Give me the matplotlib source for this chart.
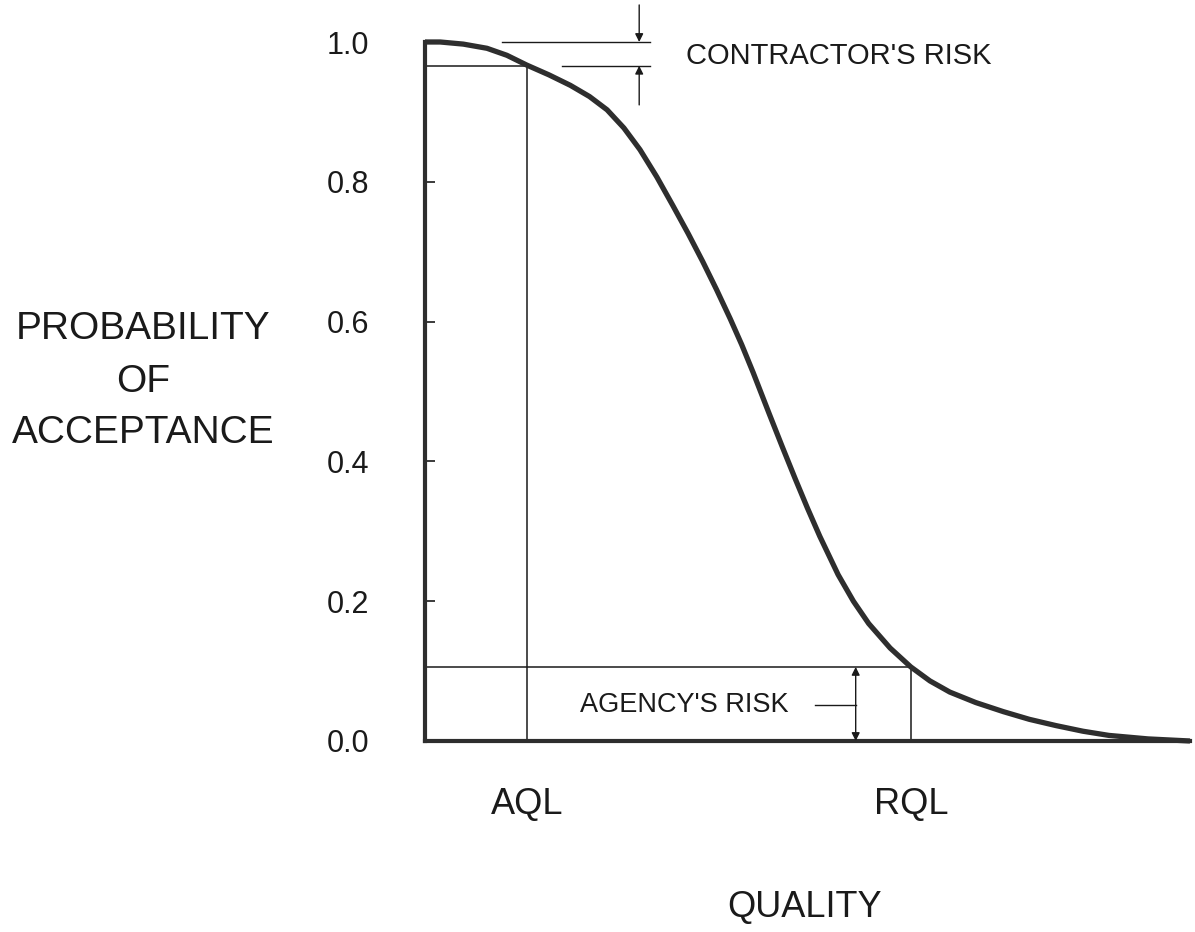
import matplotlib
matplotlib.use("Agg")
import matplotlib.pyplot as plt

plt.rcParams["font.family"] = ["Liberation Sans", "DejaVu Sans"]

# operating characteristic curve (quality 0..100)
quality = [0, 2, 5, 8.1, 10.7, 13.3, 16.2, 19.0, 21.5, 23.8, 26.0, 28.1,
           30.3, 32.4, 34.4, 36.3, 38.1, 39.9, 41.4, 42.9, 45.0, 46.7, 48.4,
           50.0, 51.6, 54.0, 56.0, 58.0, 60.8, 63.5, 66.0, 68.6, 72.0, 75.6,
           79.0, 82.5, 86.0, 89.4, 94.5, 100]
p_accept = [1.0, 1.0, 0.997, 0.991, 0.981, 0.967, 0.953, 0.938, 0.922, 0.903,
            0.877, 0.846, 0.807, 0.766, 0.726, 0.686, 0.646, 0.604, 0.567,
            0.527, 0.468, 0.421, 0.375, 0.333, 0.293, 0.238, 0.200, 0.168,
            0.133, 0.106, 0.086, 0.070, 0.055, 0.042, 0.031, 0.022, 0.014,
            0.008, 0.003, 0.0]

aql = 13.3
rql = 63.5
pa_aql = 0.966
pa_rql = 0.106

yticks = [0.0, 0.2, 0.4, 0.6, 0.8, 1.0]
ytick_labels = ["0.0", "0.2", "0.4", "0.6", "0.8", "1.0"]
ylabel_lines = ["PROBABILITY", "OF", "ACCEPTANCE"]

W, H = 1195, 932
fig = plt.figure(figsize=(W / 100, H / 100), dpi=100)
ax = fig.add_axes([425 / W, 1 - 741 / H, (1190 - 425) / W, (741 - 42) / H])
ax.set_xlim(0, 100)
ax.set_ylim(0, 1)

ink = "#1a1a1a"

# the curve
ax.plot(quality, p_accept, color="#2e2e2e", lw=3.8, solid_joinstyle="round",
        solid_capstyle="butt", clip_on=False, zorder=5)

# AQL / RQL construction lines
ax.plot([0, aql], [pa_aql, pa_aql], color=ink, lw=1.1)
ax.plot([aql, aql], [0, pa_aql], color=ink, lw=1.1)
ax.plot([0, rql], [pa_rql, pa_rql], color=ink, lw=1.1)
ax.plot([rql, rql], [0, pa_rql], color=ink, lw=1.1)

# contractor's risk marker
ax.plot([10.1, 29.4], [1.0, 1.0], color=ink, lw=1.0, clip_on=False)
ax.plot([17.9, 29.4], [pa_aql, pa_aql], color=ink, lw=1.0, clip_on=False)
ax.annotate("", xy=(28.0, 1.0), xytext=(28.0, 1.053), annotation_clip=False,
            arrowprops=dict(arrowstyle="-|>", color=ink, lw=1.0,
                            mutation_scale=12, shrinkA=0, shrinkB=0))
ax.annotate("", xy=(28.0, pa_aql), xytext=(28.0, 0.91), annotation_clip=False,
            arrowprops=dict(arrowstyle="-|>", color=ink, lw=1.0,
                            mutation_scale=12, shrinkA=0, shrinkB=0))
ax.text(34.1, 0.980, "CONTRACTOR'S RISK", fontsize=21, color=ink,
        ha="left", va="center")

# agency's risk marker
ax.annotate("", xy=(56.3, 0.0), xytext=(56.3, pa_rql),
            arrowprops=dict(arrowstyle="<|-|>", color=ink, lw=1.0,
                            mutation_scale=12, shrinkA=0, shrinkB=0))
ax.plot([51.0, 56.3], [0.0515, 0.0515], color=ink, lw=1.0)
ax.text(47.5, 0.0515, "AGENCY'S RISK", fontsize=19.5, color=ink,
        ha="right", va="center")

# axes
for s in ["top", "right"]:
    ax.spines[s].set_visible(False)
for s in ["left", "bottom"]:
    ax.spines[s].set_linewidth(3.0)
    ax.spines[s].set_color("#2e2e2e")

ax.set_yticks(yticks)
ax.set_yticklabels(ytick_labels)
ax.tick_params(axis="y", direction="in", length=7, width=1.2, pad=40,
               labelsize=22, colors=ink)
ax.set_xticks([aql, rql])
ax.set_xticklabels(["AQL", "RQL"])
ax.tick_params(axis="x", length=0, pad=33, labelsize=26, colors=ink)

for line, ypx in zip(ylabel_lines, [329, 382, 433]):
    fig.text(143 / W, 1 - ypx / H, line, fontsize=28, ha="center",
             va="center", color=ink)
fig.text(805 / W, 1 - 908 / H, "QUALITY", fontsize=26, ha="center",
         va="center", color=ink)

fig.savefig("out.png", dpi=100)
